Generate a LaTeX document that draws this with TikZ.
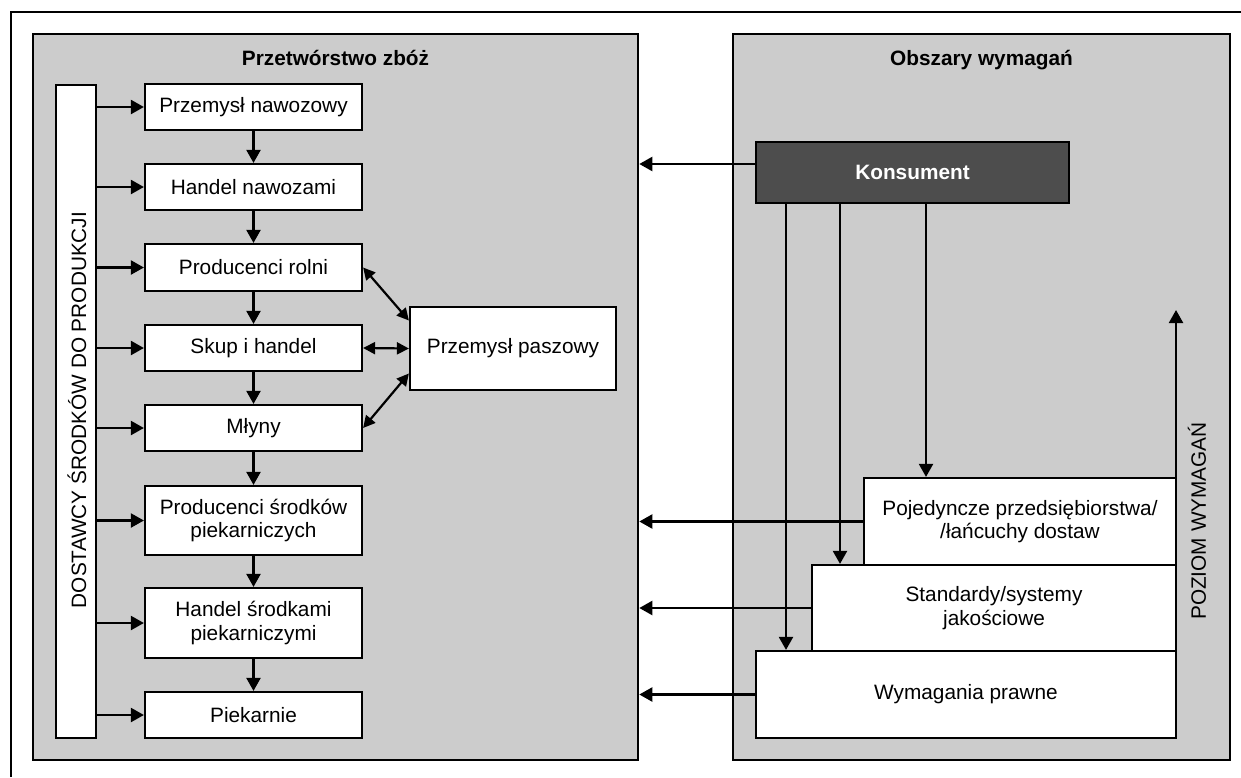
\documentclass[tikz,border=0pt]{standalone}
\usepackage{fontspec}
\setmainfont{Liberation Sans}
\usetikzlibrary{arrows.meta}
\definecolor{panelgray}{HTML}{CCCCCC}
\definecolor{konsgray}{HTML}{4D4D4D}
\begin{document}
\begin{tikzpicture}[x=1pt,y=-1pt,
  panel/.style={draw=black, line width=2.6pt, fill=panelgray, inner sep=0pt},
  box/.style={draw=black, line width=2.2pt, fill=white, font=\fontsize{20.8}{23.5}\selectfont, align=center, inner sep=0pt},
  title/.style={font=\fontsize{20.8}{23.5}\selectfont\bfseries, anchor=base},
  conn/.style={line width=2.2pt, -{Triangle[length=13pt,width=14pt]}},
  dconn/.style={line width=2.2pt, {Triangle[length=12pt,width=12pt]}-{Triangle[length=12pt,width=12pt]}},
  frame/.style={line width=2pt}
]
\useasboundingbox (0,0) rectangle (1241,777);

% panels
\node[panel, minimum width=605pt, minimum height=726pt] (lp) at (335.5,397) {};
\node[panel, minimum width=497pt, minimum height=726pt] (rp) at (981.5,397) {};
\node[title] (lt) at (335.5,65) {Przetwórstwo zbóż};
\node[title] (rt) at (981.5,65) {Obszary wymagań};

% outer frame
\coordinate (fbl) at (11,777);
\coordinate (ftl) at (11,12);
\coordinate (ftr) at (1241,12);
\draw[frame] (fbl) -- (ftl) -- (ftr);

% left column
\node[box, minimum width=40pt, minimum height=653pt] (dost) at (76,411.5) {};
\node[rotate=90, font=\fontsize{20.8}{23.5}\selectfont] (dostt) at (77,410) {DOSTAWCY ŚRODKÓW DO PRODUKCJI};

\node[box, minimum width=217pt, minimum height=46pt] (pn) at (253.5,107) {Przemysł nawozowy};
\node[box, minimum width=217pt, minimum height=46pt] (hn) at (253.5,187) {Handel nawozami};
\node[box, minimum width=217pt, minimum height=47pt] (pr) at (253.5,267.5) {Producenci rolni};
\node[box, minimum width=217pt, minimum height=46pt] (sh) at (253.5,348) {Skup i handel};
\node[box, minimum width=217pt, minimum height=46pt] (ml) at (253.5,428) {Młyny};
\node[box, minimum width=217pt, minimum height=69pt] (ps) at (253.5,520.5) {Producenci środków\\piekarniczych};
\node[box, minimum width=217pt, minimum height=70pt] (hs) at (253.5,623) {Handel środkami\\piekarniczymi};
\node[box, minimum width=217pt, minimum height=46pt] (pk) at (253.5,715) {Piekarnie};
\node[box, minimum width=206pt, minimum height=83pt] (pp) at (513,348.5) {Przemysł paszowy};

\foreach \b in {pn,hn,pr,sh,ml,ps,hs,pk}
  \draw[conn] (dost.east |- \b.west) -- (\b.west);
\draw[conn] (pn.south) -- (hn.north);
\draw[conn] (hn.south) -- (pr.north);
\draw[conn] (pr.south) -- (sh.north);
\draw[conn] (sh.south) -- (ml.north);
\draw[conn] (ml.south) -- (ps.north);
\draw[conn] (ps.south) -- (hs.north);
\draw[conn] (hs.south) -- (pk.north);

\draw[dconn] (pr.east) -- ([yshift=28pt]pp.west);
\draw[dconn] (sh.east) -- (pp.west);
\draw[dconn] (ml.east) -- ([yshift=-25pt]pp.west);

% right side
\coordinate (la) at (786,0);
\coordinate (lb) at (840,0);
\coordinate (lc) at (926,0);
\coordinate (lvtop) at (1176,310);

\node[box, minimum width=312pt, minimum height=87pt] (pj) at (1020,521.5) {Pojedyncze przedsiębiorstwa/\\/łańcuchy dostaw};
\node[box, minimum width=364pt, minimum height=86pt] (st) at (994,608) {Standardy/systemy\\jakościowe};
\node[box, minimum width=420pt, minimum height=87pt] (wp) at (966,694.5) {Wymagania prawne};

\draw[conn] (1176,738) -- (lvtop);
\node[rotate=90, font=\fontsize{20.8}{23.5}\selectfont] (poz) at (1197,521) {POZIOM WYMAGAŃ};

\node[draw=black, line width=2.2pt, fill=konsgray, text=white, inner sep=0pt,
      minimum width=313pt, minimum height=61pt, font=\fontsize{20.8}{23.5}\selectfont\bfseries] (ko) at (912.5,172.5) {Konsument};

\draw[conn] ([yshift=8.5pt]ko.west) -- ([yshift=8.5pt]ko.west -| lp.east);
\draw[conn] (ko.south -| la) -- (wp.north -| la);
\draw[conn] (ko.south -| lb) -- (st.north -| lb);
\draw[conn] (ko.south -| lc) -- (pj.north -| lc);

\draw[conn] (pj.west) -- (pj.west -| lp.east);
\draw[conn] (st.west) -- (st.west -| lp.east);
\draw[conn] (wp.west) -- (wp.west -| lp.east);

% redraw boxes' fills over the vertical level line
\node[box, minimum width=312pt, minimum height=87pt] at (1020,521.5) {Pojedyncze przedsiębiorstwa/\\/łańcuchy dostaw};
\node[box, minimum width=364pt, minimum height=86pt] at (994,608) {Standardy/systemy\\jakościowe};
\node[box, minimum width=420pt, minimum height=87pt] at (966,694.5) {Wymagania prawne};
\end{tikzpicture}
\end{document}
